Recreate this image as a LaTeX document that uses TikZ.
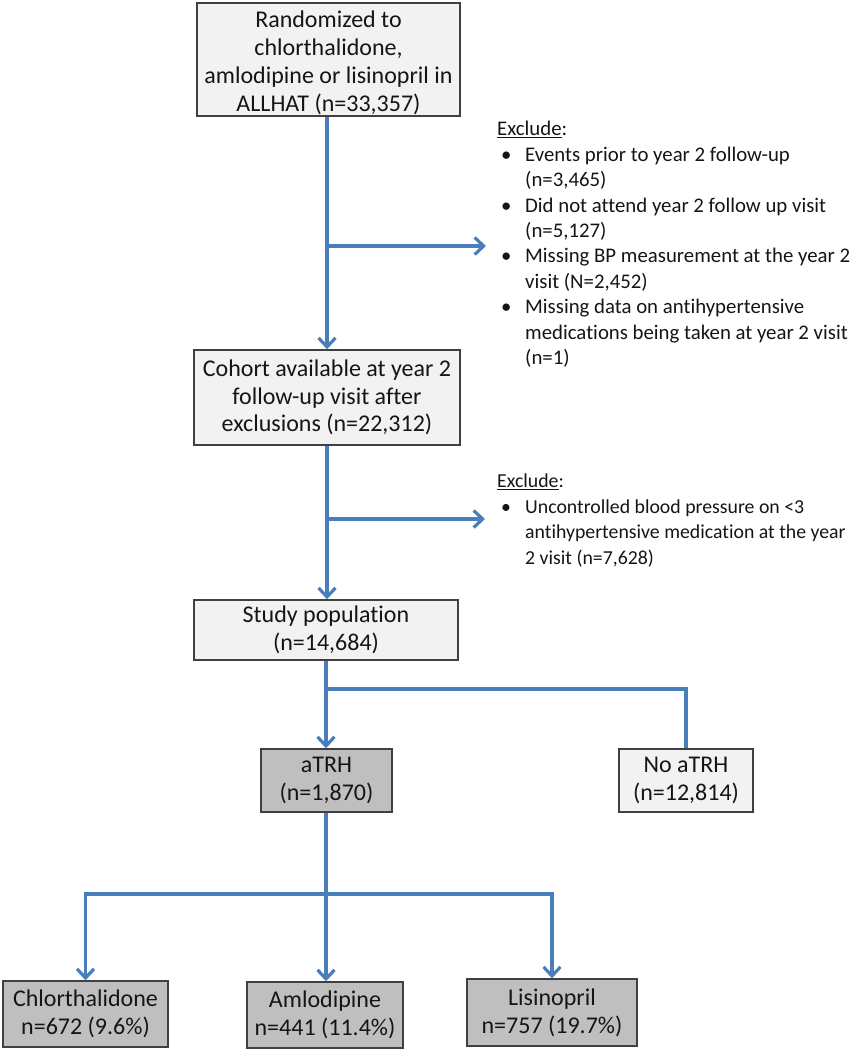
\documentclass[tikz,border=0pt]{standalone}
\usepackage{fontspec}
\setmainfont{Carlito}[Ligatures={NoCommon,NoRare}]
\usetikzlibrary{arrows.meta}
\definecolor{lineblue}{HTML}{4A7EBB}
\definecolor{boxlight}{HTML}{F2F2F2}
\definecolor{boxdark}{HTML}{BFBFBF}
\definecolor{boxborder}{HTML}{404040}
\definecolor{txt}{HTML}{151515}
\newcommand{\bul}{\makebox[28pt][l]{\hspace{4pt}•}}
\newcommand{\nob}{\makebox[28pt][l]{}}
\begin{document}
\begin{tikzpicture}[x=1pt,y=-1pt,
  box/.style={draw=boxborder, line width=1.6pt, fill=boxlight, inner sep=0pt, align=center, text=txt, font=\fontsize{24}{27.8}\selectfont},
  darkbox/.style={box, fill=boxdark},
  boxtext/.style={inner sep=0pt, align=center, text=txt, font=\fontsize{24}{27.8}\selectfont},
  conn/.style={draw=lineblue, line width=3.2pt},
  arr/.style={conn, -{Straight Barb[length=9pt,width=17pt]}},
  excl/.style={anchor=north west, inner sep=0pt, text=txt}
]
\useasboundingbox (0,0) rectangle (859,1050);

% boxes
\node[box, minimum width=263pt, minimum height=113pt] (rand) at (328.5,59.5) {};
\node[boxtext] (randtext) at (328.5,63)
  {Randomized to\\chlorthalidone,\\amlodipine or lisinopril in\\ALLHAT (n=33,357)};
\node[box, minimum width=266pt, minimum height=95pt] (cohort) at (327,397.5)
  {Cohort available at year 2\\follow-up visit after\\exclusions (n=22,312)};
\node[box, minimum width=264pt, minimum height=60pt] (study) at (326,630)
  {Study population\\(n=14,684)};
\node[darkbox, minimum width=131pt, minimum height=63pt] (atrh) at (326.5,780.5)
  {aTRH\\(n=1,870)};
\node[box, minimum width=134pt, minimum height=63pt] (noatrh) at (686,780.5)
  {No aTRH\\(n=12,814)};
\node[darkbox, minimum width=165pt, minimum height=66pt] (chlor) at (85.5,1014)
  {Chlorthalidone\\n=672 (9.6\%)};
\node[darkbox, minimum width=156pt, minimum height=66pt] (amlo) at (325,1015)
  {Amlodipine\\n=441 (11.4\%)};
\node[darkbox, minimum width=170pt, minimum height=67pt] (lisi) at (552,1012.5)
  {Lisinopril\\n=757 (19.7\%)};

% exclusion texts
\node[excl, font=\fontsize{20.8}{25.4}\selectfont] (ex1) at (497,118) {\begin{tabular}{@{}l@{}l@{}}
  \multicolumn{2}{@{}l@{}}{\underline{Exclude}:}\\
  \bul & Events prior to year 2 follow-up\\
  \nob & (n=3,465)\\
  \bul & Did not attend year 2 follow up visit\\
  \nob & (n=5,127)\\
  \bul & Missing BP measurement at the year 2\\
  \nob & visit (N=2,452)\\
  \bul & Missing data on antihypertensive\\
  \nob & medications being taken at year 2 visit\\
  \nob & (n=1)
\end{tabular}};
\node[excl, font=\fontsize{19.8}{25.4}\selectfont] (ex2) at (497,470) {\begin{tabular}{@{}l@{}l@{}}
  \multicolumn{2}{@{}l@{}}{\underline{Exclude}:}\\
  \bul & Uncontrolled blood pressure on <3\\
  \nob & antihypertensive medication at the year\\
  \nob & 2 visit (n=7,628)
\end{tabular}};

% junction coordinates
\coordinate (j1) at (327,246);
\coordinate (t1) at (486,246);
\coordinate (j2) at (327,519);
\coordinate (t2) at (485,519);
\coordinate (j3) at (326,689);
\coordinate (j4) at (326,894);

% connectors
\draw[arr] (rand.south -| j1) -- (cohort.north -| j1);
\draw[arr] (j1) -- (t1);
\draw[arr] (cohort.south -| j2) -- (study.north -| j2);
\draw[arr] (j2) -- (t2);
\draw[arr] (study.south -| j3) -- (atrh.north -| j3);
\draw[conn] (j3) -| (noatrh.north);
\draw[arr] (atrh.south -| j4) -- (amlo.north -| j4);
\draw[arr] (j4) -| (chlor.north);
\draw[arr] (j4) -| (lisi.north);
\end{tikzpicture}
\end{document}
